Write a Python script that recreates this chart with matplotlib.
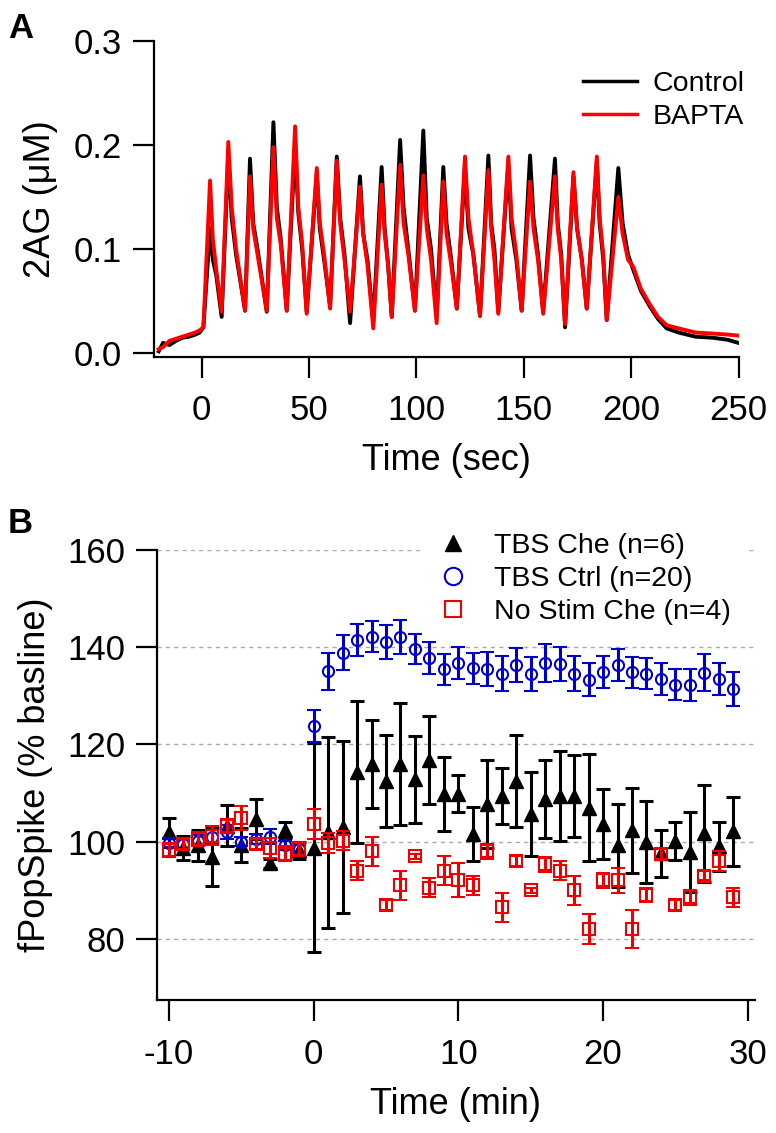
import numpy as np
import matplotlib
matplotlib.use("Agg")
import matplotlib.pyplot as plt
from matplotlib.lines import Line2D

plt.rcParams['font.family'] = ['Liberation Sans', 'DejaVu Sans']
plt.rcParams['axes.unicode_minus'] = False

# ---------------- Panel A data (key points) ----------------
pre_t = [-20, -18, -15, -12, -9, -6, -3, -1]
pre_control = [0.002, 0.010, 0.008, 0.012, 0.015, 0.016, 0.018, 0.020]
pre_bapta = [0.004, 0.006, 0.012, 0.014, 0.016, 0.018, 0.020, 0.022]

# per stimulation cycle: [trough, peak, shoulder1, shoulder2] times
cycle_t = [
    [0.8, 3.9, 5.2, 6.8], [9.3, 12.4, 14.0, 16.0], [20.2, 22.5, 24.0, 26.0],
    [30.3, 33.4, 35.0, 36.8], [39.6, 43.5, 45.0, 46.8], [48.9, 53.6, 55.0, 57.0],
    [59.8, 62.9, 64.5, 66.5], [69.1, 73.7, 75.2, 77.2], [79.9, 83.8, 85.2, 86.8],
    [88.5, 92.4, 94.0, 96.2], [99.3, 103.2, 104.8, 106.8], [109.4, 112.5, 114.0, 116.2],
    [118.8, 122.6, 124.2, 126.5], [129.6, 133.5, 134.8, 136.3], [138.1, 142.8, 144.3, 146.5],
    [149.0, 152.9, 154.5, 156.6], [159.0, 164.5, 165.8, 167.4], [169.2, 173.1, 174.8, 177.0],
    [179.3, 184.0, 185.3, 187.0], [188.6, 194.0, 196.0, 198.5],
]
cycle_control = [
    [0.025, 0.120, 0.090, 0.075], [0.035, 0.190, 0.130, 0.095], [0.041, 0.187, 0.125, 0.100],
    [0.040, 0.222, 0.140, 0.110], [0.041, 0.200, 0.135, 0.100], [0.040, 0.172, 0.120, 0.090],
    [0.045, 0.189, 0.130, 0.095], [0.029, 0.170, 0.115, 0.090], [0.030, 0.179, 0.120, 0.085],
    [0.035, 0.205, 0.140, 0.100], [0.041, 0.214, 0.130, 0.100], [0.035, 0.179, 0.125, 0.090],
    [0.043, 0.180, 0.120, 0.095], [0.036, 0.190, 0.125, 0.100], [0.040, 0.182, 0.120, 0.090],
    [0.041, 0.190, 0.130, 0.095], [0.040, 0.187, 0.125, 0.095], [0.025, 0.170, 0.120, 0.090],
    [0.043, 0.185, 0.125, 0.090], [0.032, 0.178, 0.125, 0.095],
]
cycle_bapta = [
    [0.025, 0.166, 0.110, 0.080], [0.040, 0.203, 0.140, 0.100], [0.041, 0.170, 0.120, 0.095],
    [0.041, 0.198, 0.130, 0.105], [0.041, 0.218, 0.140, 0.105], [0.038, 0.178, 0.125, 0.095],
    [0.043, 0.185, 0.125, 0.090], [0.040, 0.160, 0.115, 0.085], [0.024, 0.162, 0.115, 0.085],
    [0.035, 0.181, 0.125, 0.095], [0.041, 0.171, 0.120, 0.090], [0.029, 0.165, 0.115, 0.085],
    [0.043, 0.189, 0.130, 0.095], [0.036, 0.176, 0.120, 0.090], [0.038, 0.189, 0.130, 0.095],
    [0.041, 0.165, 0.120, 0.090], [0.038, 0.170, 0.120, 0.090], [0.028, 0.174, 0.120, 0.090],
    [0.043, 0.189, 0.130, 0.095], [0.032, 0.150, 0.115, 0.090],
]
tail_t = [201.0, 204.5, 208.7, 212.5, 216.5, 222, 230, 238, 245, 250]
tail_control = [0.080, 0.060, 0.045, 0.033, 0.024, 0.020, 0.016, 0.015, 0.013, 0.010]
tail_bapta = [0.083, 0.062, 0.047, 0.035, 0.027, 0.024, 0.020, 0.019, 0.018, 0.017]

# ---------------- Panel B data ----------------
time_min = list(range(-10, 30))
tbs_che = [101.9, 98.7, 99.2, 96.8, 103.3, 99.2, 104.7, 95.5, 102.4, 98.2,
           98.7, 101.9, 103.0, 114.4, 116.0, 112.5, 116.0, 112.8, 116.8, 109.8,
           109.8, 101.6, 107.7, 109.4, 112.5, 105.7, 108.8, 109.4, 109.4, 107.0,
           103.6, 99.2, 102.3, 99.9, 97.6, 100.1, 97.8, 101.7, 99.0, 102.1]
tbs_che_err = [3.0, 2.5, 3.2, 6.0, 4.2, 3.5, 4.1, 1.0, 1.6, 1.8,
               21.5, 19.7, 17.6, 14.6, 9.0, 9.5, 12.5, 9.0, 9.0, 7.6,
               3.8, 5.5, 9.0, 5.8, 9.5, 8.6, 8.0, 9.2, 8.5, 11.0,
               7.2, 8.5, 8.7, 8.4, 4.8, 3.9, 8.2, 10.0, 5.0, 7.1]
tbs_ctrl = [99.8, 99.5, 100.2, 100.9, 102.0, 100.0, 100.5, 101.0, 99.2, 98.5,
            123.7, 135.0, 138.9, 141.4, 142.2, 141.1, 142.1, 139.6, 137.7, 135.5,
            136.7, 135.7, 135.5, 134.5, 136.4, 134.5, 136.7, 136.6, 134.5, 133.3,
            134.8, 136.4, 134.8, 134.5, 133.4, 132.3, 132.3, 134.7, 133.4, 131.4]
tbs_ctrl_err = [1.0, 1.0, 1.2, 1.5, 1.5, 1.0, 1.0, 1.5, 1.0, 1.0,
                3.3, 3.8, 3.6, 3.3, 3.2, 3.5, 3.4, 3.1, 3.3, 3.2,
                3.3, 3.2, 3.5, 3.6, 3.5, 3.5, 3.9, 3.5, 3.6, 3.4,
                3.3, 3.3, 3.1, 3.2, 3.3, 3.2, 3.3, 3.8, 3.3, 3.4]
nostim_che = [98.3, 99.5, 100.5, 101.2, 103.2, 104.8, 99.5, 98.7, 97.5, 98.5,
              103.6, 99.7, 100.2, 94.0, 98.0, 87.0, 91.0, 97.0, 90.5, 94.0,
              92.0, 91.0, 98.0, 86.5, 96.0, 90.0, 95.3, 94.0, 90.0, 82.0,
              92.0, 92.0, 82.0, 89.0, 97.5, 87.0, 88.5, 93.0, 96.0, 88.5]
nostim_che_err = [1.5, 1.0, 1.5, 2.0, 1.5, 2.5, 1.0, 2.0, 1.5, 1.5,
                  3.1, 2.0, 2.0, 2.0, 3.0, 1.0, 3.0, 0.5, 2.0, 3.0,
                  3.5, 2.0, 1.5, 3.0, 1.0, 0.5, 1.5, 2.0, 3.0, 3.0,
                  1.5, 2.5, 4.0, 1.5, 1.0, 1.0, 1.5, 1.0, 2.0, 2.0]

# ---------------- build figure ----------------
W, H = 776, 1133
fig = plt.figure(figsize=(W / 100, H / 100), dpi=100)

def fx(px):
    return px / W

def fy(py):
    return 1 - py / H

TICK_FS = 25
TITLE_FS = 26
LEG_FS = 20.5

# Panel A axes: left spine x=154, right 738.6, top y=41, bottom y=357
axA = fig.add_axes([fx(154), fy(357), fx(738.6) - fx(154), fy(41) - fy(357)])
t_control = list(pre_t)
v_control = list(pre_control)
t_bapta = list(pre_t)
v_bapta = list(pre_bapta)
for ct, cv, bv in zip(cycle_t, cycle_control, cycle_bapta):
    t_control += ct
    v_control += cv
    t_bapta += ct
    v_bapta += bv
t_control += tail_t
v_control += tail_control
t_bapta += tail_t
v_bapta += tail_bapta

axA.plot(t_control, v_control, color='black', lw=2.8, label='Control')
axA.plot(t_bapta, v_bapta, color='#FF0000', lw=2.8, label='BAPTA')
axA.set_xlim(-22.2, 250)
axA.set_ylim(-0.0035, 0.3)
axA.set_xticks([0, 50, 100, 150, 200, 250])
axA.set_yticks([0.0, 0.1, 0.2, 0.3])
axA.set_yticklabels(['0.0', '0.1', '0.2', '0.3'])

legA = axA.legend(loc='upper left', bbox_to_anchor=(fx(583), fy(71)),
                  bbox_transform=fig.transFigure, frameon=False, fontsize=LEG_FS,
                  handlelength=1.9, handletextpad=0.55, borderpad=0,
                  borderaxespad=0, labelspacing=0.25)
for ln in legA.get_lines():
    ln.set_linewidth(2.5)

# Panel B axes: left 157.4, right 755, top y=550 (160), bottom y=1000
axB = fig.add_axes([fx(157.4), fy(1000), fx(755) - fx(157.4), fy(550) - fy(1000)])
axB.set_axisbelow(True)
axB.yaxis.grid(True, color='#aaaaaa', lw=1.0, linestyle=(0, (3, 3)))
blue = '#0000CC'
red = '#EE0000'
axB.errorbar(time_min, tbs_che, yerr=tbs_che_err, fmt='^', color='black', ms=9.5,
             mfc='black', mec='black', elinewidth=2.2, capsize=4.8, capthick=2.2,
             label='TBS Che (n=6)', zorder=3)
axB.errorbar(time_min, tbs_ctrl, yerr=tbs_ctrl_err, fmt='o', color=blue, ms=8,
             mfc='none', mec=blue, mew=1.5, elinewidth=2.2, capsize=4.8, capthick=2.2,
             label='TBS Ctrl (n=20)', zorder=4)
axB.errorbar(time_min, nostim_che, yerr=nostim_che_err, fmt='s', color=red, ms=8.5,
             mfc='none', mec=red, mew=1.5, elinewidth=2.2, capsize=4.8, capthick=2.2,
             label='No Stim Che (n=4)', zorder=5)
axB.set_xlim(-10.8, 30.5)
axB.set_ylim(67.4, 160)
axB.set_xticks([-10, 0, 10, 20, 30])
axB.set_yticks([80, 100, 120, 140, 160])

handles = [
    Line2D([], [], marker='^', ls='none', color='black', ms=12),
    Line2D([], [], marker='o', ls='none', mfc='none', mec=blue, mew=1.5, ms=12.5),
    Line2D([], [], marker='s', ls='none', mfc='none', mec=red, mew=1.5, ms=11.5),
]
legB = axB.legend(handles, ['TBS Che (n=6)', 'TBS Ctrl (n=20)', 'No Stim Che (n=4)'],
                  loc='upper left', bbox_to_anchor=(fx(423), fy(517)),
                  bbox_transform=fig.transFigure, fontsize=LEG_FS, frameon=True,
                  facecolor='white', edgecolor='none', framealpha=1.0, fancybox=False,
                  handlelength=1.0, handletextpad=0.95, borderpad=0.55,
                  borderaxespad=0, labelspacing=0.25, numpoints=1)
legB.set_zorder(10)

for ax in (axA, axB):
    for s in ('top', 'right'):
        ax.spines[s].set_visible(False)
    for s in ('left', 'bottom'):
        ax.spines[s].set_linewidth(1.6)
    ax.tick_params(axis='both', direction='out', length=15, width=1.6,
                   labelsize=TICK_FS, pad=8)
    ax.tick_params(axis='x', pad=12)

fig.text(fx(446), fy(461), 'Time (sec)', ha='center', va='center', fontsize=TITLE_FS)
fig.text(fx(40), fy(199), '2AG (\u03bcM)', ha='center', va='center', rotation=90, fontsize=TITLE_FS)
fig.text(fx(456), fy(1104), 'Time (min)', ha='center', va='center', fontsize=TITLE_FS)
fig.text(fx(36), fy(775), 'fPopSpike (% basline)', ha='center', va='center', rotation=90,
         fontsize=TITLE_FS)
fig.text(fx(8), fy(38), 'A', ha='left', va='baseline', fontsize=25, fontweight='bold')
fig.text(fx(8), fy(533), 'B', ha='left', va='baseline', fontsize=25, fontweight='bold')

fig.savefig('out.png', dpi=100)
